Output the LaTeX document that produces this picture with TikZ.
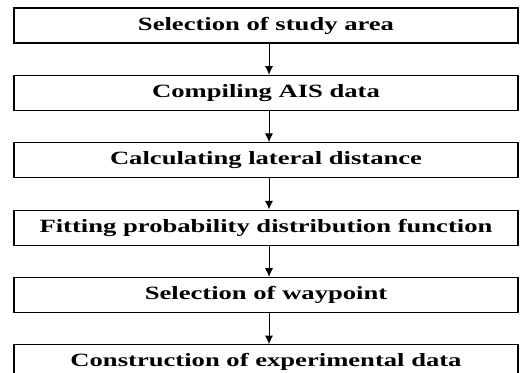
\documentclass[tikz,border=0pt]{standalone}
\usepackage{fontspec}
\setmainfont[FakeStretch=1.42]{Liberation Serif}
\usetikzlibrary{positioning,arrows.meta}

\tikzset{
    stepbox/.style={draw, line width=1pt, minimum width=15.12cm, minimum height=1.05cm,
        inner sep=0pt, font=\fontsize{16}{19}\selectfont\bfseries},
    flow/.style={-{Latex[length=0.26cm,width=0.24cm]}, line width=0.8pt}
}

\begin{document}
\begin{tikzpicture}[node distance=0.936cm]
    \useasboundingbox (0,0) rectangle (15.6,11.16);
    \node[stepbox] (area) at (7.98,10.395) {Selection of study area};
    \node[stepbox, below=of area] (ais) {Compiling AIS data};
    \node[stepbox, below=of ais] (lateral) {Calculating lateral distance};
    \node[stepbox, below=of lateral] (pdf) {Fitting probability distribution function};
    \node[stepbox, below=of pdf] (waypoint) {Selection of waypoint};
    \node[stepbox, below=of waypoint] (expdata) {Construction of experimental data};
    % arrows sit slightly right of centre
    \foreach \a/\b in {area/ais,ais/lateral,lateral/pdf,pdf/waypoint,waypoint/expdata}
        \draw[flow] ([xshift=0.09cm]\a.south) -- ([xshift=0.09cm]\b.north);
\end{tikzpicture}
\end{document}
